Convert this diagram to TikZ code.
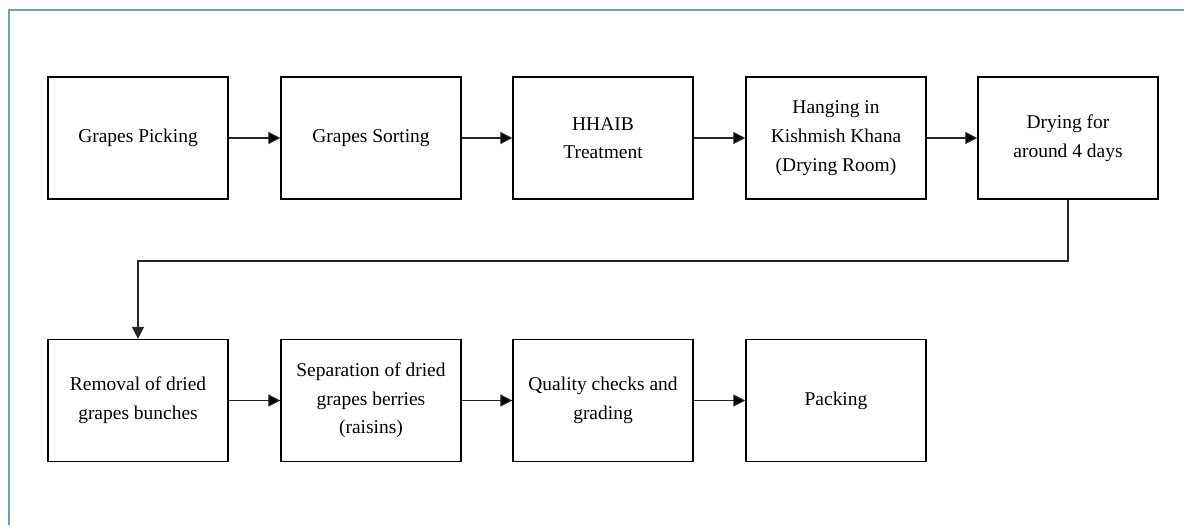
\documentclass[tikz,border=0pt]{standalone}
\usepackage{fontspec}
\setmainfont{Liberation Serif}
\usepackage{tikz}
\usetikzlibrary{arrows.meta}
\definecolor{frameblue}{RGB}{108,155,212}

\begin{document}
\begin{tikzpicture}[x=0.75pt,y=-0.75pt,
    stepbox/.style={draw=black,line width=1pt,minimum width=135pt,minimum height=91.5pt,
      align=center,inner sep=0pt,font=\fontsize{14.6}{21.5}\selectfont},
    flow/.style={-{Triangle[length=9pt,width=9pt]},line width=0.8pt,draw=black!85}]
    \useasboundingbox (0,0) rectangle (1184,525);
    \draw[frameblue,line width=1.6pt] (1184,10) -- (9,10) -- (9,525);

    \node[stepbox] (1) at (138,138) {Grapes Picking};
    \node[stepbox] (2) at (371,138) {Grapes Sorting};
    \node[stepbox] (3) at (603,138) {HHAIB\\Treatment};
    \node[stepbox] (4) at (836,138) {Hanging in\\Kishmish Khana\\(Drying Room)};
    \node[stepbox] (5) at (1068,138) {Drying for\\around 4 days};
    \node[stepbox] (6) at (138,400.5) {Removal of dried\\grapes bunches};
    \node[stepbox] (7) at (371,400.5) {Separation of dried\\grapes berries\\(raisins)};
    \node[stepbox] (8) at (603,400.5) {Quality checks and\\grading};
    \node[stepbox] (9) at (836,400.5) {Packing};
    \coordinate (k) at (603,261);

    \path
    (1) [flow] edge (2)
    (2) [flow] edge (3)
    (3) [flow] edge (4)
    (4) [flow] edge (5)
    (6) [flow] edge (7)
    (7) [flow] edge (8)
    (8) [flow] edge (9);
    \draw[flow] (5) |- (k) -| (6);
  \end{tikzpicture}
\end{document}
